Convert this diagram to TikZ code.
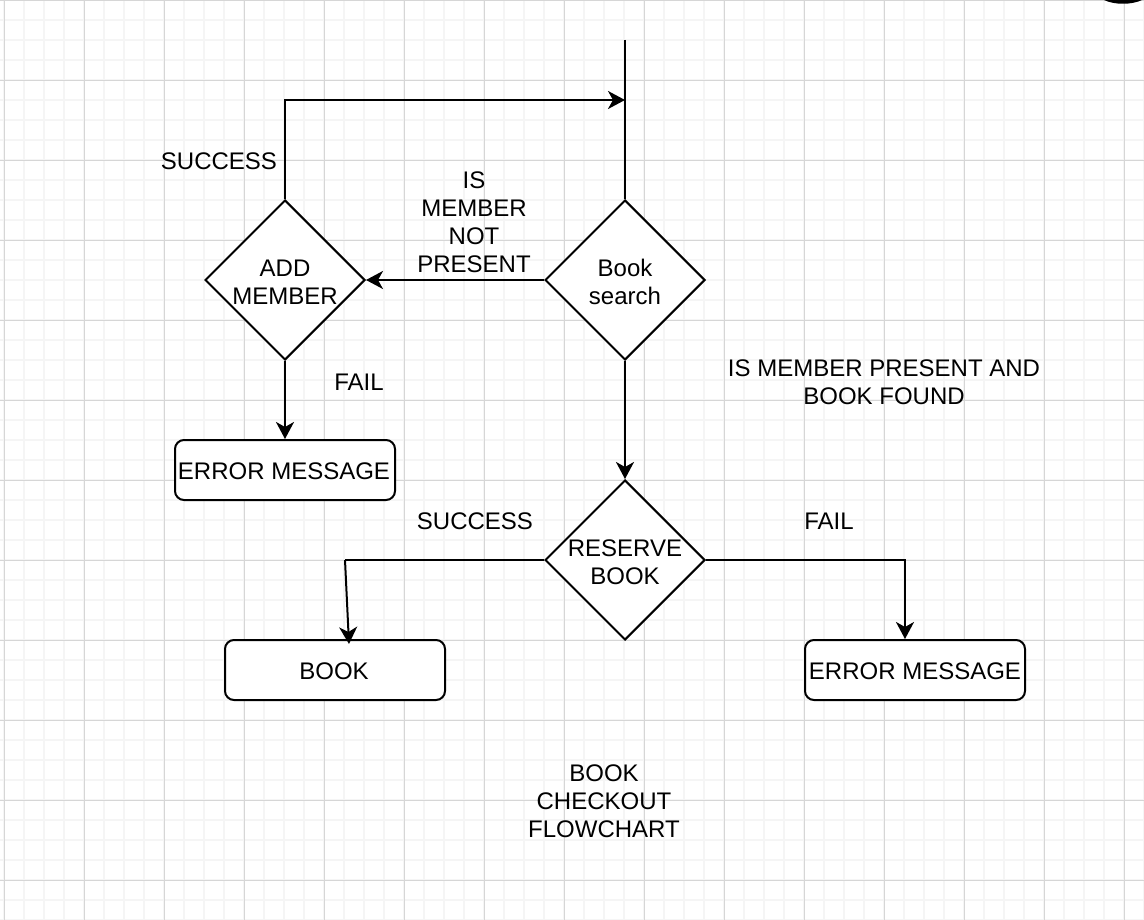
\documentclass[tikz,border=0pt]{standalone}
\usepackage{fontspec}
\setmainfont{Liberation Sans}
\usetikzlibrary{shapes.geometric,arrows.meta}
\definecolor{minorgrid}{HTML}{F5F5F5}
\definecolor{majorgrid}{HTML}{D6D6D6}
\tikzset{
  minorline/.style={draw=minorgrid,line width=1.4pt},
  majorline/.style={draw=majorgrid,line width=0.9pt},
  flow/.style={line width=2pt,draw=black},
  arr/.style={flow,-{Stealth[length=17pt,width=18pt,inset=5pt]}},
  dia/.style={diamond,draw=black,line width=2pt,fill=white,minimum width=160pt,minimum height=160pt,inner sep=0pt,aspect=1},
  rbox/.style={rectangle,draw=black,line width=2pt,fill=white,rounded corners=9pt,minimum width=220pt,minimum height=60pt,inner sep=0pt},
  txt/.style={font=\fontsize{24}{28}\selectfont,align=center,inner sep=0pt,text=black}
}
\begin{document}
\begin{tikzpicture}[x=1pt,y=-1pt]
\useasboundingbox (0,0) rectangle (1144,920);
\fill[white] (0,0) rectangle (1144,920);
% grid
\foreach \x in {4,24,...,1144} \draw[minorline] (\x,0) -- (\x,920);
\foreach \y in {0,20,...,920} \draw[minorline] (0,\y) -- (1144,\y);
\foreach \x in {4,84,...,1144} \draw[majorline] (\x,0) -- (\x,920);
\foreach \y in {0,80,...,920} \draw[majorline] (0,\y) -- (1144,\y);
% top-right fragment
\fill[black] (1104,0) .. controls (1114,5) and (1132,5) .. (1142,0) -- cycle;

% shapes
\node[dia] (BS) at (625,280) {};
\node[dia] (AM) at (285,280) {};
\node[dia] (RB) at (625,560) {};
\node[rbox] (E1) at (285,470) {};
\node[rbox] (BK) at (335,670) {};
\node[rbox] (E2) at (915,670) {};

\node[txt] at (625,282) {Book\\search};
\node[txt] at (285,282) {ADD\\MEMBER};
\node[txt] at (625,562) {RESERVE\\BOOK};
\node[txt] at (284,471) {ERROR MESSAGE};
\node[txt] at (334,671) {BOOK};
\node[txt] at (915,671) {ERROR MESSAGE};

% connectors
\coordinate (top) at (625,40);
\coordinate (j) at (625,100);
\coordinate (lb) at (345,560);
\coordinate (rb) at (905,560);
\draw[flow] (top) -- (BS.north);
\draw[arr] (AM.north) |- (j);
\draw[arr] (BS.west) -- (AM.east);
\draw[arr] (AM.south) -- (E1.north);
\draw[arr] (BS.south) -- (RB.north);
\draw[flow] (RB.west) -- (lb);
\draw[arr] (lb) -- ([xshift=14pt,yshift=-5pt]BK.north);
\draw[arr] (RB.east) -| (E2.north -| rb);

% labels
\node[txt] at (219,161) {SUCCESS};
\node[txt] at (474,222) {IS\\MEMBER\\NOT\\PRESENT};
\node[txt] at (359,382) {FAIL};
\node[txt] at (884,382) {IS MEMBER PRESENT AND\\BOOK FOUND};
\node[txt] at (475,521) {SUCCESS};
\node[txt] at (829,521) {FAIL};
\node[txt] at (604,801) {BOOK\\CHECKOUT\\FLOWCHART};
\end{tikzpicture}
\end{document}
